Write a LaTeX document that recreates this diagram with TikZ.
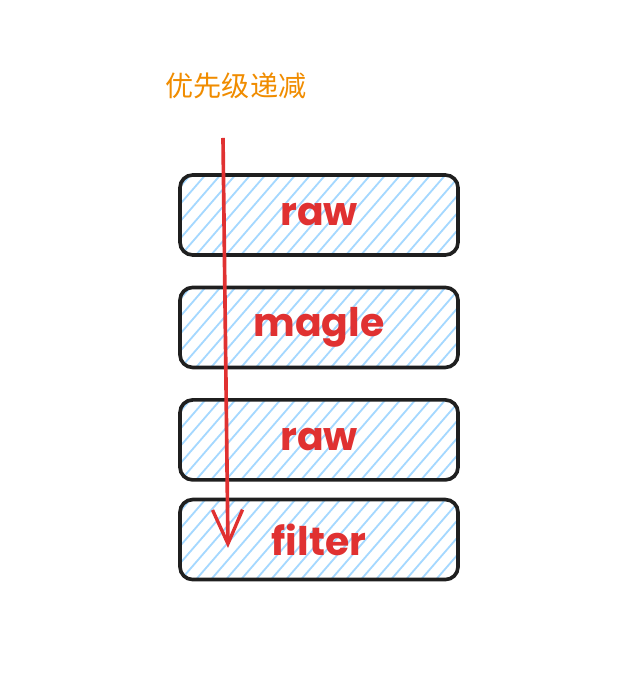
\documentclass[tikz,border=0pt]{standalone}
\usepackage{fontspec}
\setmainfont{Poppins}
\newfontfamily\cjk{Noto Sans CJK SC}
\usetikzlibrary{positioning, arrows.meta}
\definecolor{hatchblue}{HTML}{A5D8FF}
\definecolor{labelred}{HTML}{E03131}
\definecolor{titleorange}{HTML}{F08C00}
\tikzset{
  layer/.style={draw=black!88, line width=2.6pt, rounded corners=9pt,
    minimum width=6.95cm, minimum height=2cm, text=labelred,
    font=\fontsize{28}{30}\selectfont\bfseries,
    path picture={
      \foreach \d in {0,0.375,...,10}
        \draw[hatchblue, line width=1.3pt]
          ([xshift={\d cm-2.6cm}]path picture bounding box.south west) -- ++(2.6cm,3cm);
    }},
}

\begin{document}
\begin{tikzpicture}[node distance = 0.72cm]
  \useasboundingbox (0,0) rectangle (16,16.95);

  \node[text=titleorange, font=\cjk\fontsize{20}{22}\selectfont] (title) at (5.9,14.8) {优先级递减};

  \node[layer] (raw1) at (7.975,11.575) {raw};
  \node[layer, below = of raw1] (magle) {magle};
  \node[layer, below = of magle] (raw2) {raw};
  \node[layer, below = 0.4cm of raw2] (filter) {filter};

  % priority arrow
  \coordinate (top) at (5.575,13.5);
  \coordinate (bottom) at (5.7,3.25);
  \draw[labelred, line width=2.6pt, -{Straight Barb[length=0.85cm, width=0.75cm, line width=2.4pt]}] (top) -- (bottom);
\end{tikzpicture}
\end{document}
